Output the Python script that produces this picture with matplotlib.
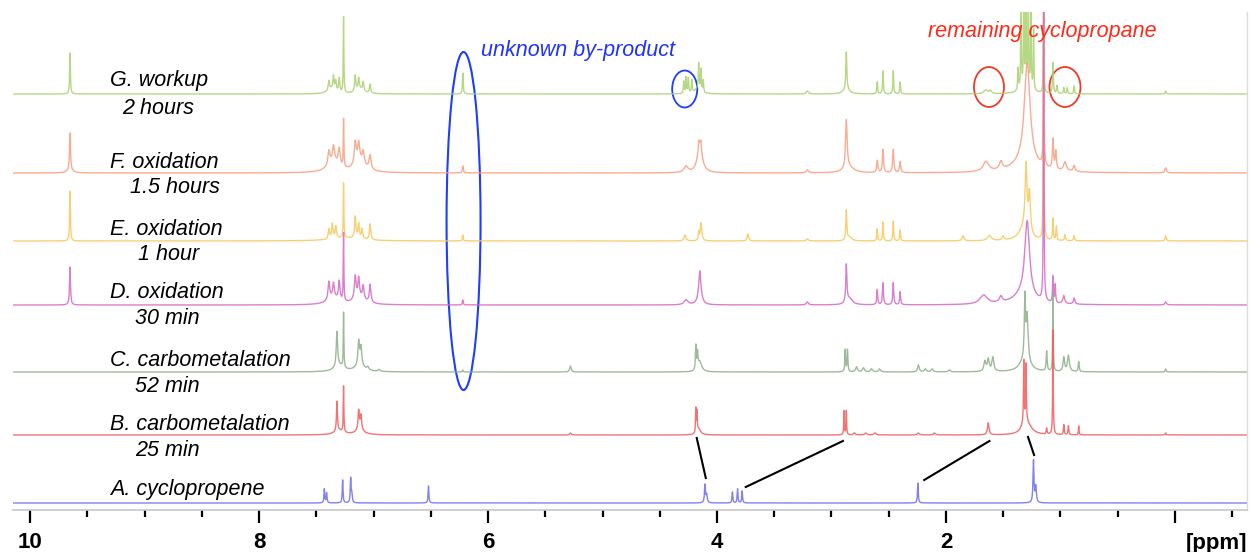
import numpy as np
import matplotlib.pyplot as plt
from matplotlib.patches import Ellipse

plt.rcParams['font.family'] = ['Liberation Sans', 'DejaVu Sans']

# peak lists: (shift in ppm, height, half width in ppm)
peaks_a = [(7.43, 14, 0.004), (7.41, 10, 0.004), (7.27, 23, 0.004), (7.20, 24, 0.004),
           (7.19, 9, 0.005), (6.52, 17, 0.004), (4.105, 18, 0.005), (4.09, 8, 0.006),
           (3.865, 11, 0.004), (3.82, 14, 0.004), (3.78, 12, 0.004), (2.245, 20, 0.004),
           (1.235, 42, 0.005), (1.215, 16, 0.006)]

peaks_b = [(7.32, 30, 0.005), (7.262, 46, 0.003), (7.13, 20, 0.007), (7.11, 15, 0.007),
           (7.30, 4, 0.05), (7.12, 4, 0.05), (5.28, 2, 0.008),
           (4.185, 24, 0.003), (4.175, 20, 0.003), (4.16, 6, 0.02),
           (2.89, 24, 0.003), (2.87, 24, 0.003), (2.80, 2, 0.01), (2.70, 2, 0.01),
           (2.62, 2, 0.01), (2.24, 2, 0.01), (2.10, 2, 0.01), (1.63, 12, 0.008),
           (1.32, 60, 0.003), (1.30, 55, 0.003), (1.31, 12, 0.03), (1.28, 6, 0.05),
           (1.12, 6, 0.004), (1.065, 105, 0.003), (0.97, 10, 0.004), (0.93, 9, 0.004),
           (0.84, 9, 0.003), (0.08, 2, 0.005)]

peaks_c = [(7.32, 35, 0.007), (7.262, 55, 0.003), (7.13, 24, 0.008), (7.11, 18, 0.008),
           (7.30, 6, 0.05), (7.12, 6, 0.05), (7.05, 3, 0.01), (6.95, 2, 0.01),
           (6.22, 2, 0.004), (5.28, 6, 0.008),
           (4.185, 24, 0.004), (4.17, 16, 0.005), (4.15, 10, 0.02),
           (2.88, 22, 0.004), (2.86, 22, 0.004), (2.78, 5, 0.01), (2.72, 4, 0.01),
           (2.65, 3, 0.01), (2.58, 3, 0.01), (2.24, 7, 0.008), (2.18, 3, 0.01),
           (2.12, 3, 0.01), (1.97, 2, 0.01), (1.66, 10, 0.01), (1.63, 12, 0.01),
           (1.59, 14, 0.01), (1.31, 60, 0.006), (1.29, 45, 0.01), (1.31, 12, 0.05),
           (1.12, 20, 0.005), (1.065, 79, 0.003), (0.97, 14, 0.008), (0.93, 16, 0.01),
           (0.84, 10, 0.005), (0.08, 3, 0.005)]

peaks_d = [(9.652, 38, 0.005), (7.35, 7, 0.06), (7.12, 7, 0.06),
           (7.39, 18, 0.009), (7.35, 14, 0.008), (7.30, 19, 0.008), (7.262, 68, 0.003),
           (7.16, 23, 0.009), (7.13, 19, 0.008), (7.09, 13, 0.008), (7.03, 18, 0.008),
           (6.22, 5, 0.004), (4.15, 28, 0.015), (4.15, 6, 0.004), (4.27, 5, 0.02),
           (3.21, 3, 0.01), (2.87, 38, 0.006), (2.84, 6, 0.03),
           (2.60, 15, 0.005), (2.55, 22, 0.005), (2.46, 22, 0.005), (2.40, 13, 0.005),
           (1.67, 9, 0.04), (1.52, 6, 0.015), (1.29, 75, 0.025), (1.32, 10, 0.1),
           (1.146, 300, 0.003), (1.065, 26, 0.004), (1.045, 18, 0.004),
           (0.97, 8, 0.01), (0.88, 6, 0.008), (0.08, 3, 0.008)]

peaks_e = [(9.652, 50, 0.004), (7.25, 3, 0.15),
           (7.39, 10, 0.007), (7.36, 15, 0.007), (7.33, 12, 0.007), (7.262, 55, 0.003),
           (7.16, 22, 0.007), (7.13, 15, 0.007), (7.10, 10, 0.007), (7.03, 16, 0.007),
           (6.22, 6, 0.004), (4.14, 18, 0.008), (4.16, 8, 0.004), (4.28, 6, 0.01),
           (3.73, 7, 0.008), (3.21, 2, 0.01), (2.87, 30, 0.005), (2.84, 4, 0.02),
           (2.60, 12, 0.004), (2.55, 19, 0.004), (2.46, 20, 0.004), (2.40, 11, 0.004),
           (1.85, 5, 0.01), (1.62, 5, 0.02), (1.50, 4, 0.01),
           (1.30, 65, 0.01), (1.27, 40, 0.01), (1.32, 12, 0.05),
           (1.146, 250, 0.003), (1.065, 22, 0.004), (1.035, 14, 0.004),
           (0.96, 6, 0.005), (0.88, 5, 0.005), (0.08, 5, 0.006)]

peaks_f = [(9.652, 37, 0.005), (9.652, 3, 0.03), (7.35, 11, 0.06), (7.12, 11, 0.06),
           (7.39, 14, 0.01), (7.35, 15, 0.01), (7.30, 17, 0.01), (7.262, 48, 0.003),
           (7.16, 22, 0.01), (7.13, 18, 0.01), (7.09, 12, 0.01), (7.03, 14, 0.01),
           (6.22, 7, 0.005), (4.15, 28, 0.025), (4.16, 8, 0.004), (4.14, 8, 0.004),
           (4.27, 6, 0.02), (3.21, 3, 0.01), (2.87, 48, 0.008), (2.85, 6, 0.05),
           (2.60, 12, 0.006), (2.55, 23, 0.006), (2.46, 23, 0.006), (2.40, 11, 0.006),
           (1.65, 10, 0.03), (1.52, 8, 0.015), (1.29, 100, 0.03), (1.30, 10, 0.12),
           (1.146, 200, 0.003), (1.065, 30, 0.006), (1.04, 18, 0.006),
           (0.96, 9, 0.015), (0.88, 6, 0.01), (0.08, 5, 0.008)]

peaks_g = [(9.652, 41, 0.004),
           (7.39, 9, 0.006), (7.35, 14, 0.006), (7.33, 10, 0.006), (7.30, 14, 0.006),
           (7.37, 5, 0.04), (7.262, 76, 0.003), (7.16, 16, 0.006), (7.13, 11, 0.006),
           (7.09, 9, 0.006), (7.03, 9, 0.006), (7.12, 5, 0.04), (6.22, 21, 0.004),
           (4.29, 12, 0.004), (4.27, 16, 0.004), (4.25, 15, 0.004), (4.22, 13, 0.004),
           (4.16, 26, 0.004), (4.14, 22, 0.004), (4.12, 12, 0.004), (4.17, 5, 0.03),
           (3.21, 3, 0.01), (2.87, 37, 0.005), (2.87, 5, 0.03),
           (2.60, 12, 0.004), (2.55, 23, 0.004), (2.46, 23, 0.004), (2.40, 12, 0.004),
           (1.65, 4, 0.02), (1.61, 3, 0.01),
           (1.37, 22, 0.004), (1.344, 95, 0.003), (1.32, 100, 0.003), (1.30, 100, 0.003),
           (1.28, 95, 0.003), (1.257, 90, 0.003), (1.234, 60, 0.003), (1.30, 12, 0.04),
           (1.146, 95, 0.003), (1.065, 31, 0.004), (1.03, 8, 0.005), (0.97, 6, 0.004),
           (0.94, 6, 0.004), (0.88, 8, 0.004), (0.08, 3, 0.005)]

names = ['A. cyclopropene', 'B. carbometalation', 'C. carbometalation', 'D. oxidation',
         'E. oxidation', 'F. oxidation', 'G. workup']
times = ['', '25 min', '52 min', '30 min', '1 hour', '1.5 hours', '2 hours']
offsets = [7, 75, 138, 205, 269, 337, 416]
colors = ['#6b6bf2', '#f25a5a', '#8db087', '#d468c6', '#f7c85a', '#f79e7e', '#a9d16f']
spectra = [peaks_a, peaks_b, peaks_c, peaks_d, peaks_e, peaks_f, peaks_g]

ppm = np.linspace(-0.63, 10.15, 24000)


def lorentz(peaks):
    y = np.zeros_like(ppm)
    for x0, h, w in peaks:
        y += h * w ** 2 / ((ppm - x0) ** 2 + w ** 2)
    return y


fig = plt.figure(figsize=(12.51, 5.52), dpi=100)
ax = fig.add_axes([13 / 1251, 42 / 552, 1234 / 1251, 498 / 552])

for i in range(6, -1, -1):
    ax.plot(ppm, offsets[i] + lorentz(spectra[i]), color=colors[i], lw=1.0, alpha=0.85)

ax.set_xlim(10.15, -0.63)
ax.set_ylim(0, 498)

# sample labels
label_y = [490, 424, 361, 293, 229, 162, 80]
time_y = [None, 450, 387, 318, 255, 187, 108]
time_x = [None, 9.08, 9.08, 9.08, 9.06, 9.13, 9.20]
for i in range(7):
    ax.text(9.30, 510 - label_y[i], names[i], fontsize=15.5, style='italic', va='center')
    if times[i]:
        ax.text(time_x[i], 510 - time_y[i], times[i], fontsize=15.5, style='italic', va='center')

# annotations
ax.add_patch(Ellipse((6.214, 289), 0.297, 338, fill=False, ec='#1f3dff', lw=1.5))
ax.add_patch(Ellipse((4.282, 421), 0.219, 37, fill=False, ec='#1f3dff', lw=1.3))
ax.text(6.066, 460, 'unknown by-product', color='#1f33ff', fontsize=15.5, style='italic', va='center')
ax.add_patch(Ellipse((1.624, 423), 0.262, 40, fill=False, ec='#f03a28', lw=1.3))
ax.add_patch(Ellipse((0.96, 423), 0.271, 40, fill=False, ec='#f03a28', lw=1.3))
ax.text(2.157, 478, 'remaining cyclopropane', color='#ff2a1a', fontsize=15.5, style='italic', va='center')

links = [((4.177, 72), (4.098, 32)), ((3.749, 23), (2.90, 69)),
         ((2.19, 30), (1.62, 69)), ((1.283, 73), (1.23, 55))]
for (x1, y1), (x2, y2) in links:
    ax.plot([x1, x2], [y1, y2], color='black', lw=1.5)

# axis styling
for s in ['top', 'left']:
    ax.spines[s].set_visible(False)
ax.spines['bottom'].set_color('#c8c8c8')
ax.spines['bottom'].set_linewidth(1.2)
ax.spines['right'].set_color('#dcdcdc')
ax.spines['right'].set_linewidth(1)
ax.set_yticks([])
ax.set_xticks([10, 8, 6, 4, 2, 0])
ax.set_xticklabels(['10', '8', '6', '4', '2', ''], fontsize=16, fontweight='bold')
ax.set_xticks([v for v in np.arange(-0.5, 10.01, 0.5) if v % 2 != 0], minor=True)
ax.tick_params(axis='x', which='major', length=9, width=1.6, color='black', pad=7)
ax.tick_params(axis='x', which='minor', length=5, width=1.6, color='black')
fig.text(1247 / 1251, 1 - 543 / 552, '[ppm]', fontsize=16, fontweight='bold', ha='right', va='center')

fig.savefig('out.png', dpi=100)
